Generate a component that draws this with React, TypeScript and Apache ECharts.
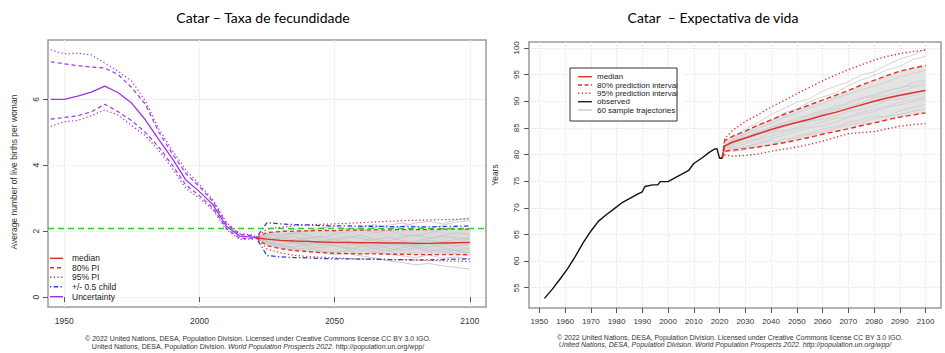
import React, { useEffect, useRef } from "react";
import * as echarts from "echarts";

// ---------- Left chart: fertility ----------
const fertHistYears = [1945, 1950, 1955, 1960, 1965, 1970, 1975, 1980, 1985, 1990, 1995, 2000, 2005, 2010, 2015, 2020, 2021];
const fertHistMedian = [6.0, 6.0, 6.1, 6.22, 6.4, 6.2, 5.88, 5.38, 4.78, 4.2, 3.55, 3.2, 2.8, 2.15, 1.85, 1.82, 1.8];
const fertHistUp80 = [7.14, 7.08, 7.02, 6.98, 6.95, 6.75, 6.35, 5.85, 5.0, 4.35, 3.75, 3.35, 2.9, 2.22, 1.9, 1.86, 1.8];
const fertHistLo80 = [5.4, 5.45, 5.5, 5.62, 5.85, 5.62, 5.35, 5.0, 4.55, 4.0, 3.4, 3.08, 2.7, 2.08, 1.78, 1.78, 1.8];
const fertHistUp95 = [7.5, 7.38, 7.4, 7.35, 7.1, 6.85, 6.55, 5.95, 5.1, 4.45, 3.85, 3.42, 2.95, 2.26, 1.93, 1.88, 1.8];
const fertHistLo95 = [5.18, 5.32, 5.36, 5.5, 5.68, 5.52, 5.2, 4.9, 4.45, 3.9, 3.3, 3.0, 2.65, 2.04, 1.75, 1.76, 1.8];

const fertProjYears = [2021, 2025, 2030, 2035, 2040, 2045, 2050, 2055, 2060, 2065, 2070, 2075, 2080, 2085, 2090, 2095, 2100];
const fertMedian = [1.8, 1.76, 1.72, 1.7, 1.69, 1.67, 1.66, 1.66, 1.65, 1.65, 1.64, 1.64, 1.63, 1.63, 1.64, 1.65, 1.66];
const fertUp80 = [1.8, 1.96, 1.99, 2.0, 2.01, 2.02, 2.02, 2.03, 2.03, 2.04, 2.04, 2.05, 2.05, 2.05, 2.06, 2.06, 2.06];
const fertLo80 = [1.8, 1.56, 1.47, 1.41, 1.38, 1.35, 1.33, 1.32, 1.31, 1.31, 1.3, 1.3, 1.29, 1.29, 1.29, 1.29, 1.29];
const fertUp95 = [1.8, 2.07, 2.12, 2.16, 2.19, 2.21, 2.22, 2.24, 2.26, 2.28, 2.3, 2.32, 2.33, 2.34, 2.35, 2.36, 2.37];
const fertLo95 = [1.8, 1.46, 1.34, 1.27, 1.23, 1.21, 1.19, 1.17, 1.16, 1.15, 1.14, 1.13, 1.12, 1.11, 1.1, 1.09, 1.08];
const fertHalfUp = [1.8, 2.26, 2.22, 2.2, 2.19, 2.17, 2.16, 2.16, 2.15, 2.15, 2.14, 2.14, 2.13, 2.13, 2.14, 2.15, 2.16];
const fertHalfLo = [1.8, 1.26, 1.22, 1.2, 1.19, 1.17, 1.16, 1.16, 1.15, 1.15, 1.14, 1.14, 1.13, 1.13, 1.14, 1.15, 1.16];
const fertReplacement = 2.1;
const fertTrajectories = [
  [1.8, 1.92, 2.0, 2.05, 1.98, 2.1, 2.15, 2.05, 2.12, 2.2, 2.08, 2.15, 2.25, 2.3, 2.22, 2.35, 2.4],
  [1.8, 1.65, 1.55, 1.48, 1.4, 1.35, 1.28, 1.32, 1.25, 1.18, 1.1, 1.05, 0.98, 1.02, 0.95, 0.9, 0.85],
  [1.8, 1.75, 1.82, 1.7, 1.78, 1.85, 1.72, 1.8, 1.88, 1.75, 1.7, 1.82, 1.9, 1.78, 1.85, 1.8, 1.75],
  [1.8, 1.7, 1.6, 1.65, 1.55, 1.5, 1.58, 1.45, 1.52, 1.6, 1.48, 1.42, 1.5, 1.38, 1.45, 1.4, 1.35],
  [1.8, 1.85, 1.9, 1.95, 1.88, 1.8, 1.92, 1.98, 2.05, 1.95, 2.02, 1.9, 1.85, 1.95, 2.05, 2.1, 2.02],
  [1.8, 1.68, 1.72, 1.62, 1.68, 1.58, 1.62, 1.7, 1.6, 1.55, 1.62, 1.68, 1.58, 1.52, 1.6, 1.55, 1.62],
  [1.8, 1.78, 1.68, 1.75, 1.82, 1.72, 1.65, 1.58, 1.68, 1.75, 1.82, 1.72, 1.65, 1.72, 1.68, 1.75, 1.8],
  [1.8, 1.62, 1.5, 1.42, 1.5, 1.4, 1.35, 1.42, 1.3, 1.38, 1.3, 1.25, 1.2, 1.28, 1.18, 1.22, 1.15],
  [1.8, 1.9, 1.85, 1.92, 2.02, 2.08, 1.98, 2.1, 2.02, 2.12, 2.18, 2.25, 2.15, 2.08, 2.18, 2.28, 2.32],
  [1.8, 1.72, 1.78, 1.85, 1.72, 1.65, 1.75, 1.62, 1.55, 1.48, 1.55, 1.6, 1.52, 1.45, 1.38, 1.3, 1.25],
  [1.8, 1.82, 1.75, 1.68, 1.6, 1.7, 1.78, 1.85, 1.78, 1.7, 1.65, 1.58, 1.7, 1.78, 1.88, 1.95, 1.9],
  [1.8, 1.65, 1.58, 1.52, 1.6, 1.66, 1.55, 1.5, 1.42, 1.48, 1.4, 1.5, 1.58, 1.62, 1.5, 1.42, 1.48],
];
const fertXTicks = [1950, 2000, 2050, 2100];
const fertYTicks = [0, 2, 4, 6];

// ---------- Right chart: life expectancy ----------
const leObsYears = [1952, 1955, 1958, 1961, 1964, 1967, 1970, 1973, 1976, 1979, 1982, 1985, 1988, 1990, 1991, 1994, 1996, 1997, 2000, 2003, 2005, 2008, 2010, 2013, 2016, 2018, 2019, 2020, 2021];
const leObsValues = [53.0, 54.7, 56.6, 58.6, 60.9, 63.4, 65.6, 67.5, 68.7, 69.8, 70.9, 71.7, 72.5, 73.0, 74.0, 74.3, 74.3, 74.9, 74.9, 75.7, 76.2, 77.0, 78.3, 79.3, 80.4, 81.0, 81.1, 79.3, 79.3];
const leProjYears = [2021, 2022, 2025, 2030, 2035, 2040, 2045, 2050, 2055, 2060, 2065, 2070, 2075, 2080, 2085, 2090, 2095, 2100];
const leMedian = [79.3, 81.6, 82.3, 83.1, 83.9, 84.7, 85.4, 86.0, 86.6, 87.3, 87.9, 88.6, 89.3, 90.0, 90.6, 91.1, 91.6, 92.0];
const leUp80 = [79.3, 82.6, 83.4, 84.4, 85.5, 86.5, 87.5, 88.4, 89.3, 90.2, 91.1, 92.0, 93.0, 93.9, 94.8, 95.6, 96.2, 96.7];
const leLo80 = [79.3, 80.6, 80.8, 81.1, 81.4, 81.8, 82.2, 82.7, 83.2, 83.8, 84.3, 84.8, 85.4, 85.9, 86.5, 87.0, 87.4, 87.8];
const leUp95 = [79.3, 83.0, 84.5, 86.2, 87.5, 88.9, 90.1, 91.4, 92.6, 93.8, 94.9, 95.9, 96.8, 97.7, 98.4, 98.9, 99.3, 99.6];
const leLo95 = [79.3, 79.9, 79.7, 79.8, 80.1, 80.6, 81.0, 81.4, 81.9, 82.5, 83.2, 83.9, 84.1, 84.3, 84.8, 85.3, 85.6, 85.8];
const leTrajectories = [
  [79.3, 81.6, 82.8, 84.0, 85.5, 86.2, 87.8, 88.5, 89.9, 90.8, 91.5, 92.9, 94.0, 94.8, 95.9, 96.5, 97.8, 98.4],
  [79.3, 81.6, 81.0, 81.5, 82.0, 82.6, 82.2, 83.5, 84.0, 84.8, 85.2, 86.0, 86.5, 87.3, 87.0, 88.2, 88.8, 89.4],
  [79.3, 81.6, 82.5, 83.2, 84.5, 85.0, 85.8, 86.9, 87.3, 88.0, 89.1, 89.5, 90.6, 91.2, 92.0, 92.4, 93.5, 94.0],
  [79.3, 81.6, 81.8, 82.4, 83.0, 84.1, 84.5, 85.0, 86.2, 86.6, 87.2, 88.1, 88.4, 89.2, 90.1, 90.4, 91.0, 91.5],
  [79.3, 81.6, 83.0, 84.8, 86.0, 87.5, 88.6, 89.8, 90.5, 91.9, 92.8, 93.6, 94.9, 95.5, 96.8, 97.9, 98.6, 99.8],
  [79.3, 81.6, 80.5, 80.9, 81.5, 81.8, 82.9, 83.1, 83.8, 84.2, 85.0, 85.6, 85.9, 86.8, 87.2, 87.5, 88.1, 88.6],
  [79.3, 81.6, 82.2, 83.5, 83.8, 85.2, 86.0, 86.4, 87.5, 88.3, 88.6, 89.8, 90.5, 90.9, 91.8, 92.6, 92.9, 93.6],
  [79.3, 81.6, 81.4, 82.0, 82.8, 83.4, 84.2, 84.8, 85.3, 86.1, 86.8, 87.0, 87.9, 88.5, 89.0, 89.8, 90.3, 90.8],
  [79.3, 81.6, 82.6, 83.8, 84.9, 85.8, 86.9, 87.8, 88.8, 89.5, 90.6, 91.3, 92.1, 92.8, 93.6, 94.6, 95.2, 95.8],
  [79.3, 81.6, 81.2, 81.3, 82.2, 82.9, 83.6, 84.3, 85.0, 85.4, 86.1, 86.9, 87.6, 88.0, 88.9, 89.3, 89.9, 90.4],
  [79.3, 81.6, 82.0, 82.9, 83.6, 84.6, 85.2, 86.2, 86.8, 87.7, 88.4, 89.0, 89.7, 90.6, 91.1, 91.8, 92.6, 93.1],
  [79.3, 81.6, 81.9, 83.2, 84.2, 84.0, 85.4, 86.0, 86.3, 87.4, 87.9, 88.7, 89.1, 89.9, 90.2, 91.0, 91.3, 92.2],
];
const leXTicks = [1950, 1960, 1970, 1980, 1990, 2000, 2010, 2020, 2030, 2040, 2050, 2060, 2070, 2080, 2090, 2100];
const leYTicks = [55, 60, 65, 70, 75, 80, 85, 90, 95, 100];

// ---------- styles ----------
const RED = "#e0302a";
const PURPLE = "#9e35e6";
const BLUE = "#2a3fe0";
const GREEN = "#2fcc2f";
const GRAYLINE = "#c6c6c6";
const DASH = [4, 3];
const DOT = [1.3, 2.4];
const DOTDASH = [1.3, 2.4, 4.5, 2.4];
const FONT = "'Liberation Sans', Arial, Helvetica, sans-serif";

function pairs(xs: number[], ys: number[]) {
  return xs.map((x, i) => [x, ys[i]]);
}

function line(gi: number, xs: number[], ys: number[], color: string, width: number, dash: any, z: number) {
  return {
    type: "line",
    xAxisIndex: gi,
    yAxisIndex: gi,
    data: pairs(xs, ys),
    showSymbol: false,
    symbol: "none",
    silent: true,
    z,
    lineStyle: { color, width, type: dash },
  };
}

function band(gi: number, xs: number[], lo: number[], hi: number[], color: string) {
  return {
    type: "custom",
    xAxisIndex: gi,
    yAxisIndex: gi,
    silent: true,
    z: 1,
    data: [[xs[0], lo[0]]],
    renderItem: (_p: any, api: any) => {
      const top = xs.map((x, i) => api.coord([x, hi[i]]));
      const bot = xs.map((x, i) => api.coord([x, lo[i]])).reverse();
      return { type: "polygon", shape: { points: top.concat(bot) }, style: { fill: color } };
    },
  };
}

function xAxis(gi: number, min: number, max: number, ticks: number[], fs: number) {
  return {
    gridIndex: gi,
    type: "value",
    min,
    max,
    axisLine: { show: false },
    axisTick: { show: true, length: 5, customValues: ticks, lineStyle: { color: "#555" } },
    axisLabel: { customValues: ticks, color: "#333", fontSize: fs, fontFamily: FONT, margin: 9, formatter: (v: number) => String(v) },
    splitLine: { show: true, lineStyle: { color: "#e4e4e4", type: "dotted", width: 1 } },
  };
}

function yAxis(gi: number, min: number, max: number, ticks: number[], fs: number, margin: number) {
  return {
    gridIndex: gi,
    type: "value",
    min,
    max,
    axisLine: { show: false },
    axisTick: { show: true, length: 5, customValues: ticks, lineStyle: { color: "#555" } },
    axisLabel: { customValues: ticks, color: "#333", fontSize: fs, fontFamily: FONT, rotate: 90, margin, formatter: (v: number) => String(v) },
    splitLine: { show: true, lineStyle: { color: "#e4e4e4", type: "dotted", width: 1 } },
  };
}

function legendItem(x1: number, x2: number, tx: number, y: number, color: string, dash: any, label: string, fs: number) {
  return [
    { type: "line", z: 100, shape: { x1, y1: y, x2, y2: y }, style: { stroke: color, lineWidth: 1.4, lineDash: dash } },
    { type: "text", z: 100, style: { text: label, x: tx, y, font: `${fs}px ${FONT}`, fill: "#222", textVerticalAlign: "middle", verticalAlign: "middle" } },
  ];
}

function buildOption() {
  const series: any[] = [];
  // Left
  series.push(band(0, fertProjYears, fertLo80, fertUp80, "#dadada"));
  fertTrajectories.forEach((t) => series.push(line(0, fertProjYears, t, GRAYLINE, 0.9, "solid", 2)));
  series.push(line(0, fertHistYears, fertHistUp95, PURPLE, 1.2, DOT, 4));
  series.push(line(0, fertHistYears, fertHistLo95, PURPLE, 1.2, DOT, 4));
  series.push(line(0, fertHistYears, fertHistUp80, PURPLE, 1.2, DASH, 4));
  series.push(line(0, fertHistYears, fertHistLo80, PURPLE, 1.2, DASH, 4));
  const med0: any = line(0, fertHistYears, fertHistMedian, PURPLE, 1.3, "solid", 5);
  med0.markLine = {
    silent: true,
    symbol: "none",
    data: [{ yAxis: fertReplacement }],
    label: { show: false },
    lineStyle: { color: GREEN, type: [6, 4], width: 1.3 },
  };
  series.push(med0);
  series.push(line(0, fertProjYears, fertUp95, RED, 1.2, DOT, 4));
  series.push(line(0, fertProjYears, fertLo95, RED, 1.2, DOT, 4));
  series.push(line(0, fertProjYears, fertUp80, RED, 1.3, DASH, 4));
  series.push(line(0, fertProjYears, fertLo80, RED, 1.3, DASH, 4));
  series.push(line(0, fertProjYears, fertHalfUp, BLUE, 1.3, DOTDASH, 4));
  series.push(line(0, fertProjYears, fertHalfLo, BLUE, 1.3, DOTDASH, 4));
  series.push(line(0, fertProjYears, fertMedian, RED, 1.4, "solid", 5));

  // Right
  series.push(band(1, leProjYears, leLo80, leUp80, "#e3e3e3"));
  leTrajectories.forEach((t) => series.push(line(1, leProjYears, t, "#cfcfcf", 0.9, "solid", 2)));
  series.push(line(1, leProjYears, leUp95, RED, 1.4, DOT, 4));
  series.push(line(1, leProjYears, leLo95, RED, 1.4, DOT, 4));
  series.push(line(1, leProjYears, leUp80, RED, 1.4, [5, 3], 4));
  series.push(line(1, leProjYears, leLo80, RED, 1.4, [5, 3], 4));
  series.push(line(1, leProjYears, leMedian, RED, 1.5, "solid", 5));
  series.push(line(1, leObsYears, leObsValues, "#111", 1.4, "solid", 5));

  const graphic: any[] = [
    { type: "text", style: { text: "Catar – Taxa de fecundidade", x: 263, y: 17, font: "14px Lato, 'Open Sans', sans-serif", fill: "#000", textAlign: "center", align: "center", textVerticalAlign: "middle", verticalAlign: "middle" } },
    { type: "text", style: { text: "Catar  – Expectativa de vida", x: 713, y: 17, font: "14px Lato, 'Open Sans', sans-serif", fill: "#000", textAlign: "center", align: "center", textVerticalAlign: "middle", verticalAlign: "middle" } },
    { type: "text", rotation: Math.PI / 2, x: 14, y: 172, style: { text: "Average number of live births per woman", x: 0, y: 0, font: `8.5px ${FONT}`, fill: "#333", textAlign: "center", align: "center", textVerticalAlign: "middle", verticalAlign: "middle" } },
    { type: "text", rotation: Math.PI / 2, x: 495, y: 175, style: { text: "Years", x: 0, y: 0, font: `8.5px ${FONT}`, fill: "#333", textAlign: "center", align: "center", textVerticalAlign: "middle", verticalAlign: "middle" } },
    { type: "text", style: { text: "© 2022 United Nations, DESA, Population Division. Licensed under Creative Commons license CC BY 3.0 IGO.", x: 258, y: 338, font: `7px ${FONT}`, fill: "#333", textAlign: "center", align: "center", textVerticalAlign: "middle", verticalAlign: "middle" } },
    {
      type: "text",
      style: {
        text: "{n|United Nations, DESA, Population Division. }{i|World Population Prospects 2022}{n|. http://population.un.org/wpp/}",
        x: 258, y: 346, textAlign: "center", align: "center", textVerticalAlign: "middle", verticalAlign: "middle",
        rich: {
          n: { fontSize: 7, fontFamily: FONT, fill: "#333", color: "#333" },
          i: { fontSize: 7, fontFamily: FONT, fontStyle: "italic", fill: "#333", color: "#333" },
        },
      },
    },
    { type: "text", style: { text: "© 2022 United Nations, DESA, Population Division. Licensed under Creative Commons license CC BY 3.0 IGO.", x: 730, y: 337, font: `7px ${FONT}`, fill: "#333", textAlign: "center", align: "center", textVerticalAlign: "middle", verticalAlign: "middle" } },
    { type: "text", style: { text: "United Nations, DESA, Population Division. World Population Prospects 2022. http://population.un.org/wpp/", x: 725, y: 344.5, font: `italic 7px ${FONT}`, fill: "#333", textAlign: "center", align: "center", textVerticalAlign: "middle", verticalAlign: "middle" } },
  ];
  // Left legend
  const lY = [258.3, 267.7, 277.3, 286.7, 296.7];
  graphic.push(...legendItem(50, 63, 72, lY[0], RED, "solid", "median", 8.5));
  graphic.push(...legendItem(50, 63, 72, lY[1], RED, DASH, "80% PI", 8.5));
  graphic.push(...legendItem(50, 63, 72, lY[2], RED, DOT, "95% PI", 8.5));
  graphic.push(...legendItem(50, 63, 72, lY[3], BLUE, DOTDASH, "+/- 0.5 child", 8.5));
  graphic.push(...legendItem(50, 63, 72, lY[4], PURPLE, "solid", "Uncertainty", 8.5));
  // Right legend
  graphic.push({ type: "rect", z: 99, shape: { x: 570, y: 68, width: 107, height: 53 }, style: { fill: "#fff", stroke: "none" } });
  const rY = [76.7, 85, 93.3, 101.7, 110];
  graphic.push(...legendItem(578, 592, 597, rY[0], RED, "solid", "median", 8));
  graphic.push(...legendItem(578, 592, 597, rY[1], RED, [4, 2.5], "80% prediction interval", 8));
  graphic.push(...legendItem(578, 592, 597, rY[2], RED, DOT, "95% prediction interval", 8));
  graphic.push(...legendItem(578, 592, 597, rY[3], "#222", "solid", "observed", 8));
  graphic.push(...legendItem(578, 592, 597, rY[4], "#c8c8c8", "solid", "60 sample trajectories", 8));
  graphic.push({ type: "rect", z: 101, shape: { x: 570, y: 68, width: 107, height: 53 }, style: { fill: "none", stroke: "#333", lineWidth: 1 } });
  // Clip overflow on right of legend box
  graphic.push({ type: "rect", z: 100.5, shape: { x: 677.5, y: 70, width: 6, height: 50 }, style: { fill: "#fff", stroke: "none" } });

  return {
    animation: false,
    backgroundColor: "#fff",
    grid: [
      { left: 48, top: 40, width: 438, height: 267, show: true, borderColor: "#9a9a9a", borderWidth: 1.5, backgroundColor: "#fff" },
      { left: 529, top: 42, width: 412, height: 266, show: true, borderColor: "#9a9a9a", borderWidth: 1.5, backgroundColor: "#fff" },
    ],
    xAxis: [xAxis(0, 1944, 2106, fertXTicks, 8.5), xAxis(1, 1946, 2106, leXTicks, 8)],
    yAxis: [yAxis(0, -0.3, 7.8, fertYTicks, 8.5, 8), yAxis(1, 51.2, 101.1, leYTicks, 8, 9)],
    series,
    graphic,
  };
}

export default function App() {
  const ref = useRef<HTMLDivElement>(null);
  useEffect(() => {
    const chart = echarts.init(ref.current!, null, { renderer: "svg" });
    chart.setOption(buildOption() as any);
    return () => chart.dispose();
  }, []);
  return <div ref={ref} style={{ position: "absolute", left: 0, top: 0, width: 945, height: 353 }} />;
}
